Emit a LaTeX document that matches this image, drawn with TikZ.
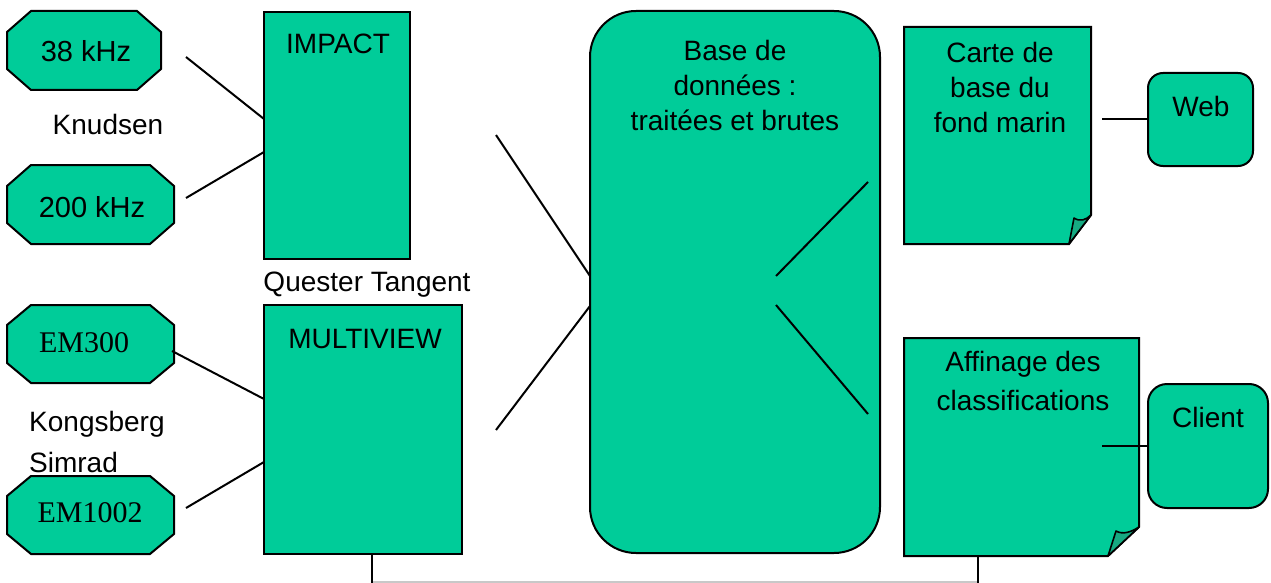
\documentclass[tikz,border=0pt]{standalone}
\usepackage{fontspec}
\setmainfont{Liberation Sans}
\newfontfamily\emfont{Liberation Serif}
\usetikzlibrary{calc}
\definecolor{seagreen}{RGB}{0,204,153}
\definecolor{flapgreen}{RGB}{22,170,130}
\definecolor{railgrey}{RGB}{200,200,200}

\begin{document}
\begin{tikzpicture}[x=1pt,y=-1pt,
  outline/.style={draw=black,line width=2pt,fill=seagreen,line join=miter},
  flap/.style={draw=black,line width=1.6pt,fill=flapgreen,line join=round},
  box/.style={outline,rectangle,inner sep=0pt,outer sep=0pt,anchor=north west},
  link/.style={draw=black,line width=2pt},
  lbl/.style={font=\fontsize{28}{35}\selectfont,anchor=base,inner sep=0pt,align=center},
  sonar/.style={font=\fontsize{29}{35}\selectfont,anchor=base,inner sep=0pt},
  emlbl/.style={font=\emfont\fontsize{30}{35}\selectfont,anchor=base,inner sep=0pt}]

\useasboundingbox (0,0) rectangle (1271,583);

% sonar heads (octagons)
\path[outline] (31,11)--(137,11)--(161,32)--(161,69)--(137,90)--(31,90)--(7,69)--(7,32)--cycle;
\path[outline] (31,165)--(150,165)--(174,186)--(174,223)--(150,244)--(31,244)--(7,223)--(7,186)--cycle;
\path[outline] (31,305)--(150,305)--(174,325)--(174,363)--(150,383)--(31,383)--(7,363)--(7,325)--cycle;
\path[outline] (31,476)--(150,476)--(174,496)--(174,534)--(150,554)--(31,554)--(7,534)--(7,496)--cycle;
\node[sonar] (k38) at (86,62) {38 kHz};
\node[sonar] (k200) at (92,217) {200 kHz};
\node[emlbl] (em300) at (84,352) {EM300};
\node[emlbl] (em1002) at (90,522) {EM1002};

% acquisition software
\node[box,minimum width=146pt,minimum height=247pt] (impact) at (264,12) {};
\node[box,minimum width=198pt,minimum height=249pt] (multiview) at (264,305) {};
\node[lbl] (impacttxt) at (338,54) {IMPACT};
\node[lbl] (multiviewtxt) at (365,348) {MULTIVIEW};

% maker names (multi-line labels are placed by their last baseline)
\node[lbl] (knudsen) at (108,135) {Knudsen};
\node[lbl] (quester) at (367,291) {Quester Tangent};
\node[lbl,anchor=base west,align=left,font=\fontsize{28}{41}\selectfont] (kongsberg) at (29,472) {Kongsberg\\Simrad};

% database
\node[box,rounded corners=46pt,minimum width=290pt,minimum height=542pt] (base) at (590,11) {};
\node[lbl] (basetxt) at (735,131) {Base de\\données :\\traitées et brutes};

% output documents with folded corner
\path[outline] (904,27)--(1091,27)--(1091,215)--(1069,244)--(904,244)--cycle;
\path[flap] (1069,244)--(1074,218) .. controls (1080,222) and (1086,220) .. (1091,215)--cycle;
\path[outline] (904,338)--(1139,338)--(1139,527)--(1108,556)--(904,556)--cycle;
\path[flap] (1108,556)--(1116,531) .. controls (1123,535) and (1131,532) .. (1139,527)--cycle;
\node[lbl] (carte) at (1000,132) {Carte de\\base du\\fond marin};
\node[lbl,font=\fontsize{28}{39}\selectfont] (affinage) at (1023,410) {Affinage des\\classifications};

% destinations
\node[box,rounded corners=15pt,minimum width=105pt,minimum height=93pt] (web) at (1148,73) {};
\node[box,rounded corners=19pt,minimum width=120pt,minimum height=124pt] (client) at (1148,384) {};
\node[lbl] (webtxt) at (1201,117) {Web};
\node[lbl] (clienttxt) at (1208,427) {Client};

% connector end points
\coordinate (c38) at (186,57);   \coordinate (i38) at (264,119);
\coordinate (c200) at (186,198); \coordinate (i200) at (264,152);
\coordinate (c300) at (172,351); \coordinate (m300) at (264,399);
\coordinate (c1002) at (186,508);\coordinate (m1002) at (264,462);
\coordinate (du) at (496,135);   \coordinate (bu) at (590,276);
\coordinate (dl) at (496,430);   \coordinate (bl) at (590,306);
\coordinate (ou) at (776,276);   \coordinate (cu) at (868,182);
\coordinate (ol) at (776,305);   \coordinate (al) at (868,414);
\coordinate (wf) at (1102,119);
\coordinate (cf) at (1102,446);
\coordinate (mb) at (372,554);   \coordinate (mr) at (372,583);
\coordinate (ab) at (978,556);   \coordinate (ar) at (978,583);
\coordinate (rl) at (372,582);   \coordinate (rr) at (978,582);

\draw[link] (c38) -- (i38);
\draw[link] (c200) -- (i200);
\draw[link] (c300) -- (m300);
\draw[link] (c1002) -- (m1002);
\draw[link] (du) -- (bu);
\draw[link] (dl) -- (bl);
\draw[link] (ou) -- (cu);
\draw[link] (ol) -- (al);
\draw[link] (wf) -- (wf -| web.west);
\draw[link] (cf) -- (cf -| client.west);
\draw[draw=railgrey,line width=1.5pt] (rl) -- (rr);
\draw[link] (mb) -- (mr);
\draw[link] (ab) -- (ar);
\end{tikzpicture}
\end{document}
